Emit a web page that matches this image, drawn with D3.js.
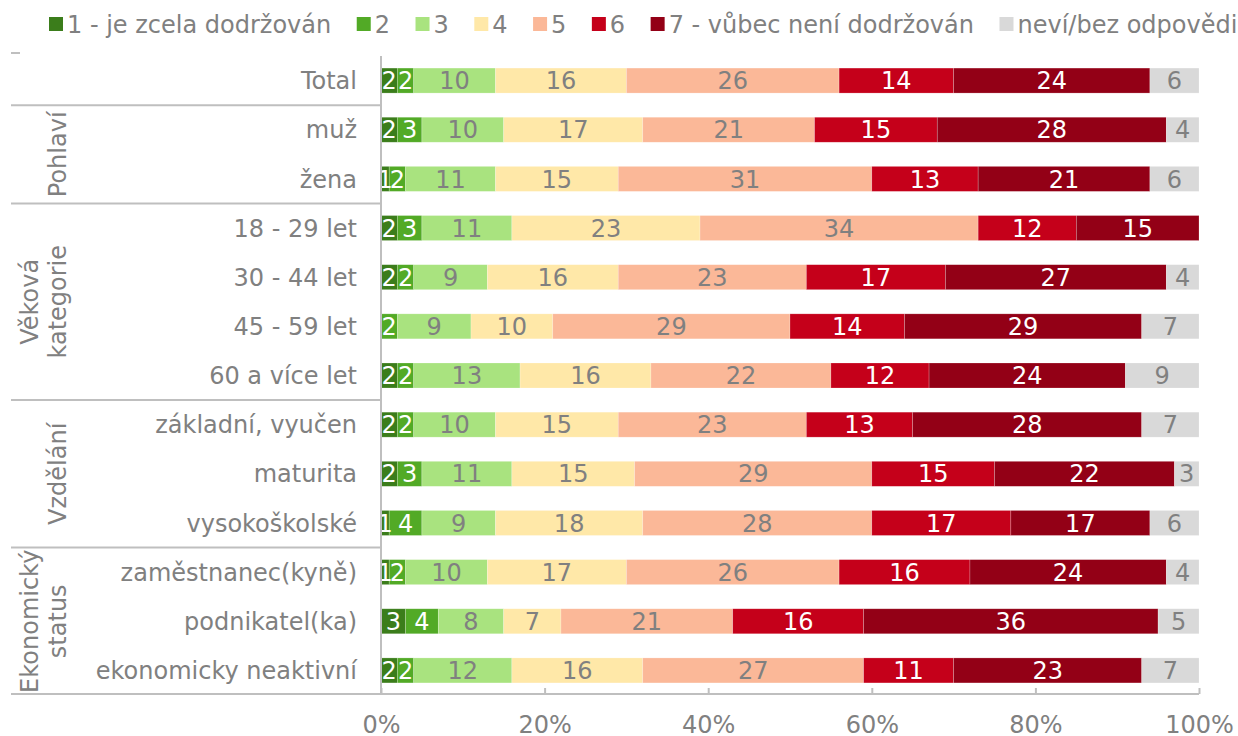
<!DOCTYPE html>
<html>
<head>
<meta charset="utf-8">
<script src="https://cdn.jsdelivr.net/npm/d3@7"></script>
<style>
  body { margin: 0; background: #fff; }
  text { font-family: "DejaVu Sans", Verdana, sans-serif; }
</style>
</head>
<body>
<div id="chart"></div>
<script>
// categories (rows, top to bottom)
var rows = ["Total", "muž", "žena", "18 - 29 let", "30 - 44 let", "45 - 59 let", "60 a více let",
  "základní, vyučen", "maturita", "vysokoškolské",
  "zaměstnanec(kyně)", "podnikatel(ka)", "ekonomicky neaktivní"];

// groups of rows on the left
var groups = [
  {name: ["Pohlaví"], from: "muž", to: "žena"},
  {name: ["Věková", "kategorie"], from: "18 - 29 let", to: "60 a více let"},
  {name: ["Vzdělání"], from: "základní, vyučen", to: "vysokoškolské"},
  {name: ["Ekonomický", "status"], from: "zaměstnanec(kyně)", to: "ekonomicky neaktivní"}
];

var keys = ["1 - je zcela dodržován", "2", "3", "4", "5", "6", "7 - vůbec není dodržován", "neví/bez odpovědi"];
var colors = ["#3b7d1b", "#52aa26", "#a9e37f", "#ffe8a8", "#fbb898", "#c5001a", "#930016", "#d9d9d9"];
var labelColors = ["#fff", "#fff", "#808080", "#808080", "#808080", "#fff", "#fff", "#808080"];

// values per answer, in row order
var v1 = [2, 2, 1, 2, 2, 0, 2, 2, 2, 1, 1, 3, 2];
var v2 = [2, 3, 2, 3, 2, 2, 2, 2, 3, 4, 2, 4, 2];
var v3 = [10, 10, 11, 11, 9, 9, 13, 10, 11, 9, 10, 8, 12];
var v4 = [16, 17, 15, 23, 16, 10, 16, 15, 15, 18, 17, 7, 16];
var v5 = [26, 21, 31, 34, 23, 29, 22, 23, 29, 28, 26, 21, 27];
var v6 = [14, 15, 13, 12, 17, 14, 12, 13, 15, 17, 16, 16, 11];
var v7 = [24, 28, 21, 15, 27, 29, 24, 28, 22, 17, 24, 36, 23];
var vNevi = [6, 4, 6, 0, 4, 7, 9, 7, 3, 6, 4, 5, 7];

var ticks = [0, 20, 40, 60, 80, 100];

var series = [v1, v2, v3, v4, v5, v6, v7, vNevi];
var table = rows.map(function(r, i) {
  var d = {row: r};
  keys.forEach(function(k, j) { d[k] = series[j][i]; });
  return d;
});

var width = 1238, height = 736;
var gray = "#808080", lineColor = "#bfbfbf";
var fs = 24;

var svg = d3.select("#chart").append("svg")
  .attr("width", width)
  .attr("height", height);

var x = d3.scaleLinear().domain([0, 100]).range([381, 1199]);
var y = d3.scaleBand().domain(rows).range([56, 695]).padding(0);
var barH = 25;

var stacked = d3.stack().keys(keys)(table);

// bars
var layer = svg.append("g").selectAll("g")
  .data(stacked)
  .enter().append("g")
    .attr("fill", function(d, i) { return colors[i]; });

layer.selectAll("rect")
  .data(function(d) { return d; })
  .enter().append("rect")
    .attr("x", function(d) { return x(d[0]); })
    .attr("y", function(d) { return y(d.data.row) + (y.bandwidth() - barH) / 2; })
    .attr("width", function(d) { return x(d[1]) - x(d[0]); })
    .attr("height", barH)
    .attr("stroke", "#fff")
    .attr("stroke-opacity", 0.35)
    .attr("stroke-width", 0.6);

// bar labels
svg.append("g").selectAll("g")
  .data(stacked)
  .enter().append("g")
    .attr("fill", function(d, i) { return labelColors[i]; })
  .selectAll("text")
  .data(function(d) { return d.filter(function(p) { return p[1] - p[0] > 0; }); })
  .enter().append("text")
    .attr("x", function(d) { return (x(d[0]) + x(d[1])) / 2; })
    .attr("y", function(d) { return y(d.data.row) + y.bandwidth() / 2; })
    .attr("dy", "0.36em")
    .attr("text-anchor", "middle")
    .attr("font-size", fs)
    .text(function(d) { return d[1] - d[0]; });

// vertical axis line
svg.append("line")
  .attr("x1", x(0)).attr("x2", x(0))
  .attr("y1", 56).attr("y2", 695)
  .attr("stroke", lineColor).attr("stroke-width", 2);

// bottom axis
var xAxis = d3.axisBottom(x)
  .tickValues(ticks)
  .tickSize(-6)
  .tickPadding(22)
  .tickFormat(function(d) { return d + "%"; });

var ax = svg.append("g")
  .attr("transform", "translate(0,694)")
  .call(xAxis);
ax.select(".domain").remove();
ax.selectAll(".tick line").attr("stroke", lineColor).attr("stroke-width", 2);
ax.selectAll(".tick text")
  .attr("fill", gray)
  .attr("font-size", fs)
  .attr("font-family", "DejaVu Sans, Verdana, sans-serif")
  .attr("dy", "0.71em");
ax.append("line")
  .attr("x1", 11).attr("x2", x(100))
  .attr("stroke", lineColor).attr("stroke-width", 2);

// row labels
svg.append("g").selectAll("text")
  .data(rows)
  .enter().append("text")
    .attr("x", 357)
    .attr("y", function(d) { return y(d) + y.bandwidth() / 2; })
    .attr("dy", "0.36em")
    .attr("text-anchor", "end")
    .attr("fill", gray)
    .attr("font-size", fs)
    .text(function(d) { return d; });

// group separators
var seps = [y("muž"), y("18 - 29 let"), y("základní, vyučen"), y("zaměstnanec(kyně)")];
svg.append("g").selectAll("line")
  .data(seps)
  .enter().append("line")
    .attr("x1", 11).attr("x2", x(0))
    .attr("y1", function(d) { return d; })
    .attr("y2", function(d) { return d; })
    .attr("stroke", lineColor).attr("stroke-width", 2);

// small stub at the top-left
svg.append("line")
  .attr("x1", 11).attr("x2", 20)
  .attr("y1", 53).attr("y2", 53)
  .attr("stroke", lineColor).attr("stroke-width", 2);

// group labels (rotated)
groups.forEach(function(g) {
  var cy = (y(g.from) + y(g.to) + y.bandwidth()) / 2;
  var n = g.name.length;
  g.name.forEach(function(line, i) {
    var cx = 57 - (n - 1 - i) * 28;
    svg.append("text")
      .attr("transform", "translate(" + cx + "," + cy + ") rotate(-90)")
      .attr("dy", "0.36em")
      .attr("text-anchor", "middle")
      .attr("fill", gray)
      .attr("font-size", fs)
      .text(line);
  });
});

// legend
var legend = svg.append("g");
var lx = 49;
keys.forEach(function(k, i) {
  legend.append("rect")
    .attr("x", lx).attr("y", 17)
    .attr("width", 14).attr("height", 14)
    .attr("fill", colors[i]);
  var t = legend.append("text")
    .attr("x", lx + 18).attr("y", 24)
    .attr("dy", "0.36em")
    .attr("fill", gray)
    .attr("font-size", fs)
    .text(k);
  lx = lx + 18 + t.node().getComputedTextLength() + 25.5;
});
</script>
</body>
</html>
